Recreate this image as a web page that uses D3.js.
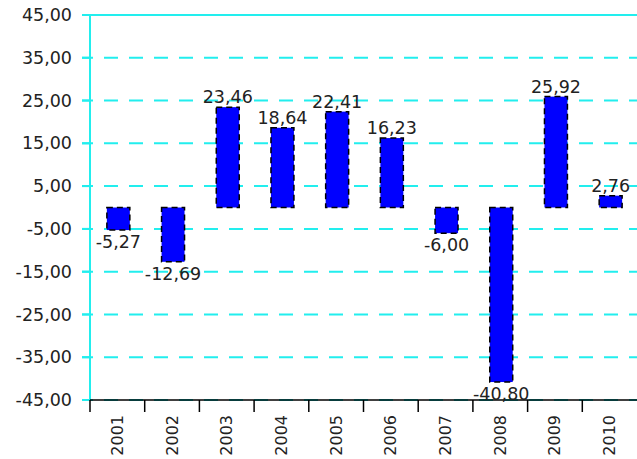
<!DOCTYPE html>
<html>
<head>
<meta charset="utf-8">
<script src="https://cdn.jsdelivr.net/npm/d3@7"></script>
<style>
  body { margin: 0; background: #fff; }
  text { font-family: "DejaVu Sans", Verdana, sans-serif; }
</style>
</head>
<body>
<div class="canvas"></div>
<script>
const years = ['2001', '2002', '2003', '2004', '2005', '2006', '2007', '2008', '2009', '2010']
const values = [-5.27, -12.69, 23.46, 18.64, 22.41, 16.23, -6.00, -40.80, 25.92, 2.76]
const yTicks = [45, 35, 25, 15, 5, -5, -15, -25, -35, -45]

const width = 637, height = 459
const [mt, mr, mb, ml] = [15, 0, 59, 90]
const graphWidth = width - ml - mr
const graphHeight = height - mt - mb

const svg = d3.select('.canvas').append('svg').attr('width', width).attr('height', height)
const graph = svg.append('g').attr('transform', `translate(${ml}, ${mt})`)

const x = d3.scaleBand().domain(years).range([0, graphWidth])
const y = d3.scaleLinear().domain([-45, 45]).range([graphHeight, 0])

const fmt = v => v.toFixed(2).replace('.', ',')

// grid lines (dashed, top one solid)
graph.append('g').selectAll('line').data(yTicks).enter()
    .append('line')
    .attr('x1', -8).attr('x2', graphWidth)
    .attr('y1', d => y(d)).attr('y2', d => y(d))
    .attr('stroke', '#22eeee')
    .attr('stroke-width', 2)
    .attr('stroke-dasharray', d => d === 45 ? null : '14,11')
    .attr('stroke-dashoffset', -22)

// small solid tick stubs left of the axis
graph.append('g').selectAll('line').data(yTicks).enter()
    .append('line')
    .attr('x1', -8).attr('x2', 0)
    .attr('y1', d => y(d)).attr('y2', d => y(d))
    .attr('stroke', '#22eeee').attr('stroke-width', 2)

// y axis line
graph.append('line')
    .attr('x1', 0).attr('x2', 0).attr('y1', 0).attr('y2', graphHeight)
    .attr('stroke', '#22eeee').attr('stroke-width', 2)

const yAxisG = graph.append('g')
yAxisG.call(d3.axisLeft(y).tickValues(yTicks).tickFormat(fmt).tickSize(0).tickPadding(18))
yAxisG.select('.domain').remove()
yAxisG.selectAll('text').attr('fill', '#222').style('font-size', '17.5px')

// x axis
const xAxisG = graph.append('g').attr('transform', `translate(0, ${graphHeight})`)
xAxisG.append('line')
    .attr('x1', 0).attr('x2', graphWidth)
    .attr('stroke', '#000').attr('stroke-width', 1.5)
xAxisG.selectAll('.tk').data(years).enter()
    .append('line')
    .attr('x1', d => x(d)).attr('x2', d => x(d))
    .attr('y1', 0).attr('y2', 12)
    .attr('stroke', '#000').attr('stroke-width', 1.5)
xAxisG.selectAll('.lbl').data(years).enter()
    .append('text')
    .attr('transform', d => `translate(${x(d) + x.bandwidth() / 2 + 5.5}, 15) rotate(-90)`)
    .attr('text-anchor', 'end')
    .attr('fill', '#222')
    .style('font-size', '16px')
    .text(d => d)

// bars
const barW = x.bandwidth() * 0.42
const data = years.map((yr, i) => ({ yr, v: values[i] }))

graph.selectAll('rect').data(data).enter()
    .append('rect')
    .attr('x', d => x(d.yr) + x.bandwidth() / 2 - barW / 2 + 1)
    .attr('width', barW)
    .attr('y', d => y(Math.max(0, d.v)))
    .attr('height', d => Math.abs(y(d.v) - y(0)))
    .attr('fill', '#0000ff')
    .attr('stroke', '#000')
    .attr('stroke-width', 1.5)
    .attr('stroke-dasharray', '6,4')

graph.selectAll('.val').data(data).enter()
    .append('text')
    .attr('x', d => x(d.yr) + x.bandwidth() / 2 + 1)
    .attr('y', d => d.v >= 0 ? y(d.v) - 4 : y(d.v) + 18)
    .attr('text-anchor', 'middle')
    .attr('fill', '#222')
    .style('font-size', '17.5px')
    .text(d => fmt(d.v))
</script>
</body>
</html>
